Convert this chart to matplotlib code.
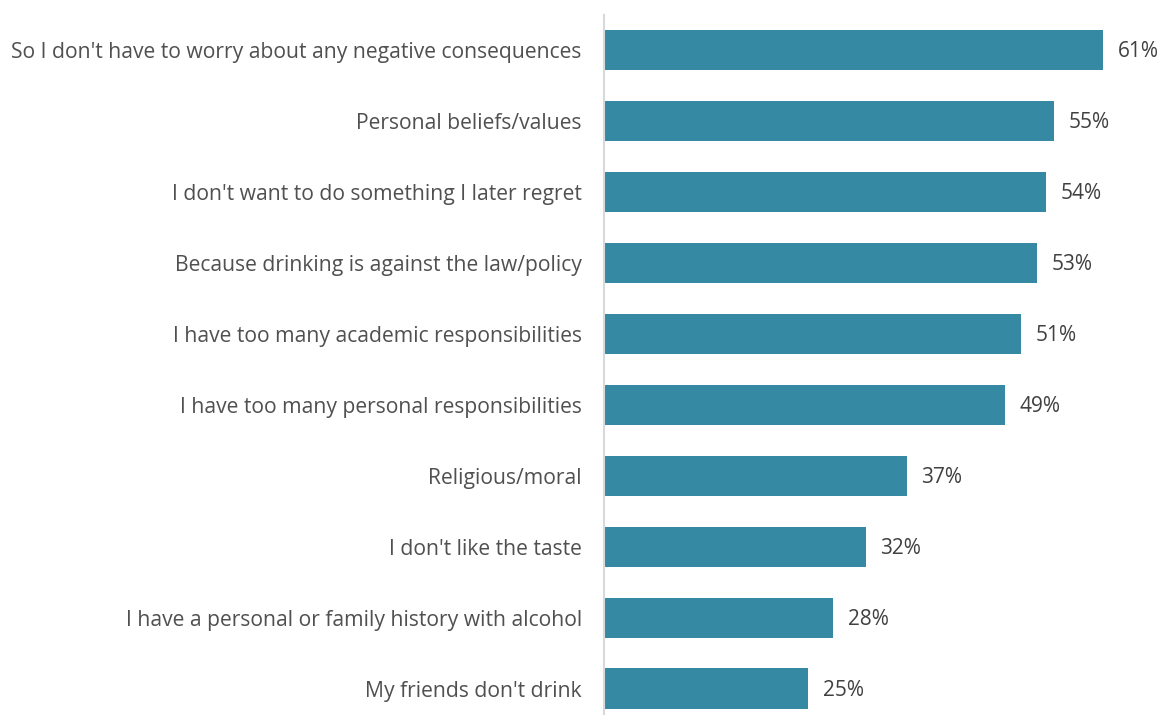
import matplotlib.pyplot as plt

reasons = [
    "So I don't have to worry about any negative consequences",
    "Personal beliefs/values",
    "I don't want to do something I later regret",
    "Because drinking is against the law/policy",
    "I have too many academic responsibilities",
    "I have too many personal responsibilities",
    "Religious/moral",
    "I don't like the taste",
    "I have a personal or family history with alcohol",
    "My friends don't drink",
]
percents = [61, 55, 54, 53, 51, 49, 37, 32, 28, 25]

plt.rcParams['font.family'] = ['Open Sans', 'DejaVu Sans']

fig = plt.figure(figsize=(11.63, 7.15), dpi=100)
ax = fig.add_axes([604 / 1163, 0, 556 / 1163, 700 / 715])

pos = list(range(len(reasons)))
ax.barh(pos, percents, height=0.57, color='#3589a3')

# value labels just past the end of each bar
for p, v in zip(pos, percents):
    ax.text(v + 1.8, p + 0.03, f"{v}%", va='center', ha='left', fontsize=15, color='#404040')

ax.set_yticks(pos)
ax.set_yticklabels(reasons, fontsize=15.2, color='#505050')
ax.tick_params(axis='y', length=0, pad=16)
ax.set_xticks([])
ax.set_xlim(0, 68)
ax.set_ylim(9.37, -0.49)

for side in ['top', 'right', 'bottom']:
    ax.spines[side].set_visible(False)
ax.spines['left'].set_color('#d9d9d9')
ax.spines['left'].set_linewidth(1.5)

fig.savefig('out.png', dpi=100)
